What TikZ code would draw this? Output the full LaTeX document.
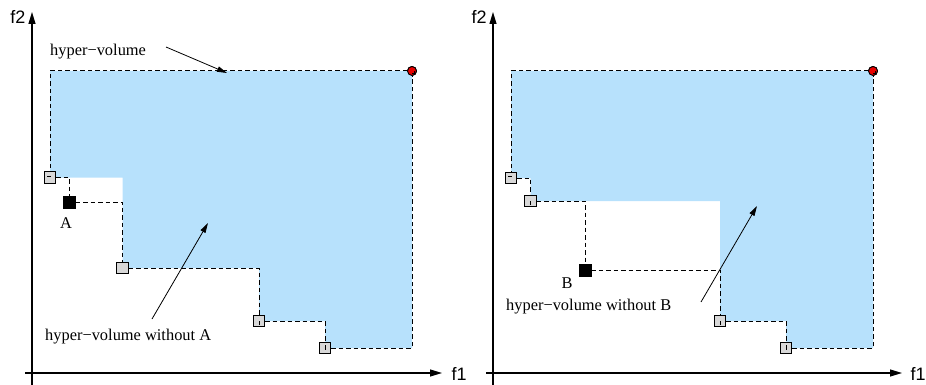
\documentclass[tikz,border=0pt]{standalone}
\usepackage{fontspec}
\setmainfont{Liberation Serif}
\newfontfamily\axisfont{Liberation Sans}
\usetikzlibrary{arrows.meta}
\definecolor{hvblue}{RGB}{183,225,252}
\definecolor{ptgray}{RGB}{216,216,216}
\definecolor{refred}{RGB}{232,0,0}

\begin{document}
\begin{tikzpicture}[x=1pt,y=-1pt,
  ptbox/.style={draw=black, line width=0.9pt, fill=ptgray, minimum size=11.5pt, inner sep=0pt},
  ptsel/.style={draw=black, fill=black, minimum size=12pt, inner sep=0pt},
  refpt/.style={circle, draw=black, line width=0.9pt, fill=refred, minimum size=9pt, inner sep=0pt},
  bound/.style={draw=black, line width=1pt, dash pattern=on 4.5pt off 3pt},
  nib/.style={draw=black, line width=0.9pt},
  axisline/.style={draw=black, line width=1.1pt, -{Triangle[length=12pt,width=7pt]}},
  pointer/.style={draw=black, line width=0.8pt, -{Triangle[length=10pt,width=5.5pt]}},
  lbl/.style={font=\fontsize{16.4}{18}\selectfont, inner sep=0pt},
  axlbl/.style={font=\axisfont\fontsize{18}{20}\selectfont, inner sep=0pt}
]
\useasboundingbox (0,0) rectangle (926,385);

% ---------------- left panel: removing A ----------------
\node[refpt] (r1) at (412,71) {};
\node[ptbox] (a1) at (50,177.5) {};
\node[ptsel] (A) at (69.5,202) {};
\node[ptbox] (a2) at (122.5,268) {};
\node[ptbox] (a3) at (259,321) {};
\node[ptbox] (a4) at (325,348) {};

% region still dominated once A is dropped
\fill[hvblue] (a1.center |- r1.center) -- (r1.center) -- (r1.center |- a4.center)
  -- (a4.center) -- (a4.center |- a3.center) -- (a3.center) -- (a3.center |- a2.center)
  -- (a2.center) -- (a2.center |- a1.center) -- (a1.center) -- cycle;

% attainment boundary
\draw[bound] (r1) -| (a1);
\draw[bound] (a1) -| (A);
\draw[bound] (A) -| (a2);
\draw[bound] (a2) -| (a3);
\draw[bound] (a3) -| (a4);
\draw[bound] (a4) -| (r1);

% redraw markers on top of the boundary
\node[refpt] at (r1) {};
\node[ptbox] at (a1) {};
\node[ptsel] at (A) {};
\node[ptbox] at (a2) {};
\node[ptbox] at (a3) {};
\node[ptbox] at (a4) {};

% dash ends showing through the markers
\draw[nib] ([xshift=-3pt,yshift=1.5pt]a1.center) -- ([xshift=1pt,yshift=1.5pt]a1.center);
\draw[nib] (a3.center) -- ([yshift=-4pt]a3.center);
\draw[nib] ([yshift=3pt]a4.center) -- ([yshift=-2pt]a4.center);
\draw[nib] ([yshift=-2pt]r1.center) -- ([xshift=2pt,yshift=-2pt]r1.center) -- ([xshift=2pt]r1.center);

% axes
\coordinate (o1y) at (32,385);
\coordinate (t1y) at (32,12);
\coordinate (o1x) at (25,373);
\coordinate (t1x) at (442,373);
\draw[axisline] (o1y) -- (t1y);
\draw[axisline] (o1x) -- (t1x);
\node[axlbl] (f2l) at (18,17) {f2};
\node[axlbl] (f1l) at (459,374) {f1};

% labels
\node[lbl, anchor=west] (hv) at (50,52) {hyper−volume};
\coordinate (hvs) at (166,47);
\coordinate (hvt) at (227,73);
\draw[pointer] (hvs) -- (hvt);
\node[lbl] (Alab) at (66,223) {A};
\node[lbl, anchor=west] (hvA) at (45,337) {hyper−volume without A};
\coordinate (hvAs) at (152,319);
\coordinate (hvAt) at (208,223);
\draw[pointer] (hvAs) -- (hvAt);

% ---------------- right panel: removing B ----------------
\node[refpt] (r2) at (873,71) {};
\node[ptbox] (b1) at (511,178) {};
\node[ptbox] (b2) at (530.5,201) {};
\node[ptsel] (B) at (585,270) {};
\node[ptbox] (b3) at (720,321) {};
\node[ptbox] (b4) at (786,348) {};

\fill[hvblue] (b1.center |- r2.center) -- (r2.center) -- (r2.center |- b4.center)
  -- (b4.center) -- (b4.center |- b3.center) -- (b3.center) -- (b3.center |- b2.center)
  -- (b2.center) -- (b2.center |- b1.center) -- (b1.center) -- cycle;

\draw[bound] (r2) -| (b1);
\draw[bound] (b1) -| (b2);
\draw[bound] (b2) -| (B);
\draw[bound] (B) -| (b3);
\draw[bound] (b3) -| (b4);
\draw[bound] (b4) -| (r2);

\node[refpt] at (r2) {};
\node[ptbox] at (b1) {};
\node[ptbox] at (b2) {};
\node[ptsel] at (B) {};
\node[ptbox] at (b3) {};
\node[ptbox] at (b4) {};

\draw[nib] ([xshift=-3pt,yshift=1.5pt]b1.center) -- ([xshift=1pt,yshift=1.5pt]b1.center);
\draw[nib] (b2.center) -- ([yshift=-4pt]b2.center);
\draw[nib] (b3.center) -- ([yshift=-4pt]b3.center);
\draw[nib] ([yshift=3pt]b4.center) -- ([yshift=-2pt]b4.center);
\draw[nib] ([yshift=-2pt]r2.center) -- ([xshift=2pt,yshift=-2pt]r2.center) -- ([xshift=2pt]r2.center);

\coordinate (o2y) at (493,385);
\coordinate (t2y) at (493,12);
\coordinate (o2x) at (486,373);
\coordinate (t2x) at (902,373);
\draw[axisline] (o2y) -- (t2y);
\draw[axisline] (o2x) -- (t2x);
\node[axlbl] (f2r) at (479,17) {f2};
\node[axlbl] (f1r) at (918,374) {f1};

\node[lbl] (Blab) at (567,283) {B};
\node[lbl, anchor=west] (hvB) at (506,307) {hyper−volume without B};
\coordinate (hvBs) at (701,302);
\coordinate (hvBt) at (757,206);
\draw[pointer] (hvBs) -- (hvBt);
\end{tikzpicture}
\end{document}
